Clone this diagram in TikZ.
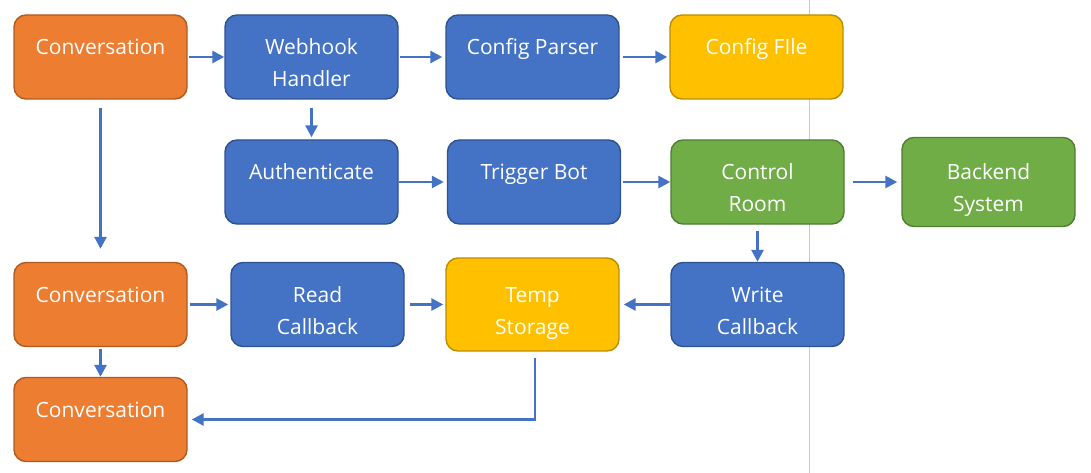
\documentclass[tikz,border=0pt]{standalone}
\usepackage{fontspec}
\setmainfont{Open Sans}
\usetikzlibrary{arrows.meta,positioning}
\definecolor{convfill}{HTML}{ED7D31}
\definecolor{convline}{HTML}{AE5A21}
\definecolor{procfill}{HTML}{4472C4}
\definecolor{procline}{HTML}{2F528F}
\definecolor{storefill}{HTML}{FFC000}
\definecolor{storeline}{HTML}{BC8C00}
\definecolor{sysfill}{HTML}{70AD47}
\definecolor{sysline}{HTML}{507E32}
\definecolor{divider}{HTML}{C8C8C8}

\begin{document}
\begin{tikzpicture}[x=1pt, y=-1pt,
      box/.style={rounded corners=12pt, minimum width=173pt, minimum height=84pt,
                  line width=1.4pt, text=white, align=center, inner sep=4pt,
                  font=\fontsize{21}{32}\selectfont, text height=63pt, text depth=4pt},
      conv/.style={box, fill=convfill, draw=convline},
      proc/.style={box, fill=procfill, draw=procline},
      store/.style={box, fill=storefill, draw=storeline},
      sys/.style={box, fill=sysfill, draw=sysline},
      arr/.style={-{Triangle[length=12pt, width=12pt]}, line width=2.7pt, procfill}
    ]
      \useasboundingbox (0,0) rectangle (1091,473);
      \draw[divider, line width=1pt] (809,0) -- (809,473);

      % row 1
      \node[conv] (conv1) at (100.5,57) {Conversation\\\mbox{}};
      \node[proc] (hook) at (311.5,57) {Webhook\\Handler};
      \node[proc] (parser) at (532.5,57) {Config Parser\\\mbox{}};
      \node[store] (cfile) at (756.5,57) {Config FIle\\\mbox{}};

      % row 2
      \node[proc] (auth) at (311.5,182) {Authenticate\\\mbox{}};
      \node[proc] (trigger) at (534,182) {Trigger Bot\\\mbox{}};
      \node[sys] (control) at (757.5,182) {Control\\Room};
      \node[sys, minimum height=89pt] (backend) at (988.5,182) {Backend\\System};

      % row 3
      \node[conv] (conv2) at (100.5,304.5) {Conversation\\\mbox{}};
      \node[proc] (readcb) at (317.5,304.5) {Read\\Callback};
      \node[store, minimum height=93pt] (temp) at (532.5,304.5) {Temp\\Storage};
      \node[proc] (writecb) at (757.5,304.5) {Write\\Callback};

      % row 4
      \node[conv] (conv3) at (100.5,419.5) {Conversation\\\mbox{}};

      \draw[arr, shorten <=1pt] (conv1) -- (hook);
      \draw[arr, shorten <=1pt, shorten >=3pt] (hook) -- (parser);
      \draw[arr, shorten <=3pt, shorten >=2pt] (parser) -- (cfile);
      \draw[arr, shorten <=8pt, shorten >=2pt] (hook) -- (auth);
      \draw[arr, shorten <=8pt, shorten >=13pt] (conv1) -- (conv2);
      \draw[arr, shorten >=3pt] (auth) -- (trigger);
      \draw[arr, shorten <=2pt] (trigger) -- (control);
      \draw[arr, shorten <=8pt, shorten >=4pt] (control) -- (backend);
      \draw[arr, shorten <=6pt] (control) -- (writecb);
      \draw[arr, shorten <=2pt, shorten >=2pt] (conv2) -- (readcb);
      \draw[arr, shorten <=5pt, shorten >=2pt] (readcb) -- (temp);
      \draw[arr, shorten >=4pt] (writecb) -- (temp);
      \draw[arr, shorten <=2pt] (conv2) -- (conv3);
      \draw[arr, shorten <=6pt, shorten >=4pt] ([xshift=2.5pt]temp.south) |- (conv3.east);
    \end{tikzpicture}
\end{document}
